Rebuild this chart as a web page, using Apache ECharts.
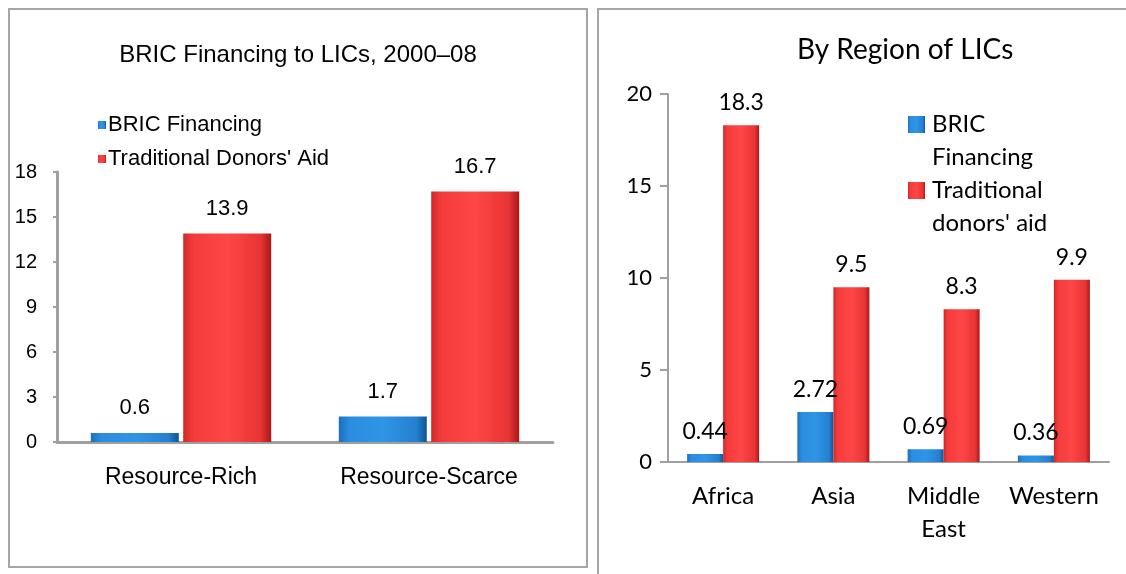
<!DOCTYPE html>
<html>
<head>
<meta charset="utf-8">
<script src="https://cdn.jsdelivr.net/npm/echarts@6/dist/echarts.min.js"></script>
<style>
    html, body { margin: 0; padding: 0; background: #fff; }
    body { width: 1126px; height: 574px; position: relative; overflow: hidden; }
    .panel { position: absolute; box-sizing: border-box; border: 2px solid #a6a6a6; }
    #left { left: 8px; top: 8px; width: 580px; height: 560px; }
    #right { left: 597px; top: 8px; width: 540px; height: 580px; }
</style>
</head>
<body>
<div id="left" class="panel"></div>
<div id="right" class="panel"></div>
<script>
// left chart: by resource type
const typeCategories = ['Resource-Rich', 'Resource-Scarce']
const typeBric = [0.6, 1.7]
const typeDonors = [13.9, 16.7]
const typeTicks = [0, 3, 6, 9, 12, 15, 18]

// right chart: by region
const regionCategories = ['Africa', 'Asia', 'Middle\nEast', 'Western']
const regionBric = [0.44, 2.72, 0.69, 0.36]
const regionDonors = [18.3, 9.5, 8.3, 9.9]
const regionTicks = [0, 5, 10, 15, 20]

const narrow = "'Liberation Sans Narrow', 'Arial Narrow', 'Liberation Sans', Arial, sans-serif"
const calibri = "Lato, 'Open Sans', sans-serif"
const axisGrey = '#a0a0a0'

const redFill = new echarts.graphic.LinearGradient(0, 0, 1, 0, [
    { offset: 0, color: '#d02828' },
    { offset: 0.12, color: '#f43c3c' },
    { offset: 0.5, color: '#ff4646' },
    { offset: 0.88, color: '#e83434' },
    { offset: 1, color: '#a81818' }
])
const blueFill = new echarts.graphic.LinearGradient(0, 0, 1, 0, [
    { offset: 0, color: '#1c6fbd' },
    { offset: 0.12, color: '#2b8de0' },
    { offset: 0.5, color: '#2f95e6' },
    { offset: 0.88, color: '#2580cf' },
    { offset: 1, color: '#0f5596' }
])

// legend icon: square sitting on the first line of a two-line label
const twoLineIcon = 'path://M0,0L0.01,0M0,66L0.01,66M0,8L17,8L17,25L0,25Z'

const leftChart = echarts.init(document.getElementById('left'))
leftChart.setOption({
    animation: false,
    title: {
        text: 'BRIC Financing to LICs, 2000\u201308',
        left: 'center',
        top: 28,
        textStyle: { fontFamily: narrow, fontSize: 24, fontWeight: 'normal', color: '#000' }
    },
    legend: {
        orient: 'vertical',
        left: 83,
        top: 99,
        itemWidth: 8,
        itemHeight: 8,
        itemGap: 12,
        icon: 'rect',
        textStyle: { fontFamily: narrow, fontSize: 22, color: '#000', padding: [0, 0, 0, -3] },
        data: ['BRIC Financing', "Traditional Donors' Aid"]
    },
    grid: { left: 47, right: 33, top: 162, bottom: 124 },
    xAxis: {
        type: 'category',
        data: typeCategories,
        axisLine: { lineStyle: { color: axisGrey, width: 3 } },
        axisTick: { inside: true, length: 7, lineStyle: { color: axisGrey, width: 3 } },
        axisLabel: { fontFamily: narrow, fontSize: 23, color: '#000', margin: 24, interval: 0 }
    },
    yAxis: {
        type: 'value',
        min: typeTicks[0],
        max: typeTicks[typeTicks.length - 1],
        interval: typeTicks[1] - typeTicks[0],
        axisLine: { show: true, lineStyle: { color: axisGrey, width: 3 } },
        axisTick: { show: true, length: 4, lineStyle: { color: axisGrey, width: 2 } },
        splitLine: { show: false },
        axisLabel: { fontFamily: narrow, fontSize: 20, color: '#000', margin: 20 }
    },
    series: [
        {
            name: 'BRIC Financing',
            type: 'bar',
            data: typeBric,
            barWidth: 88,
            barGap: '5%',
            itemStyle: { color: blueFill },
            label: { show: true, position: 'top', distance: 14, fontFamily: narrow, fontSize: 22, color: '#000' }
        },
        {
            name: "Traditional Donors' Aid",
            type: 'bar',
            data: typeDonors,
            barWidth: 88,
            itemStyle: { color: redFill },
            label: { show: true, position: 'top', distance: 14, fontFamily: narrow, fontSize: 22, color: '#000' }
        }
    ]
})

const rightChart = echarts.init(document.getElementById('right'))
rightChart.setOption({
    animation: false,
    title: {
        text: 'By Region of LICs',
        left: 193,
        top: 21,
        textStyle: { fontFamily: calibri, fontSize: 28, fontWeight: 'normal', color: '#000' }
    },
    legend: {
        orient: 'vertical',
        left: 304,
        top: 93,
        itemWidth: 17,
        itemHeight: 66,
        itemGap: 0,
        icon: twoLineIcon,
        textStyle: { fontFamily: calibri, fontSize: 24, lineHeight: 33, color: '#000', padding: [0, 0, 0, 2] },
        formatter: name => name.replace(' ', '\n'),
        data: ['BRIC Financing', "Traditional donors' aid"]
    },
    grid: { left: 69, right: 26, top: 84, bottom: 124 },
    xAxis: {
        type: 'category',
        data: regionCategories,
        axisLine: { lineStyle: { color: axisGrey, width: 2 } },
        axisTick: { length: 8, lineStyle: { color: axisGrey, width: 2 } },
        axisLabel: { fontFamily: calibri, fontSize: 24, lineHeight: 33, color: '#000', margin: 18, interval: 0 }
    },
    yAxis: {
        type: 'value',
        min: regionTicks[0],
        max: regionTicks[regionTicks.length - 1],
        interval: regionTicks[1] - regionTicks[0],
        axisLine: { show: true, lineStyle: { color: axisGrey, width: 2 } },
        axisTick: { show: true, length: 8, lineStyle: { color: axisGrey, width: 2 } },
        splitLine: { show: false },
        axisLabel: { fontFamily: calibri, fontSize: 22, color: '#000', margin: 16 }
    },
    series: [
        {
            name: 'BRIC Financing',
            type: 'bar',
            data: regionBric,
            barWidth: 36,
            barGap: 0,
            itemStyle: { color: blueFill },
            label: { show: true, position: 'top', distance: 11, fontFamily: calibri, fontSize: 23, color: '#000' }
        },
        {
            name: "Traditional donors' aid",
            type: 'bar',
            data: regionDonors,
            barWidth: 36,
            itemStyle: { color: redFill },
            label: { show: true, position: 'top', distance: 11, fontFamily: calibri, fontSize: 23, color: '#000' }
        }
    ]
})
</script>
</body>
</html>
